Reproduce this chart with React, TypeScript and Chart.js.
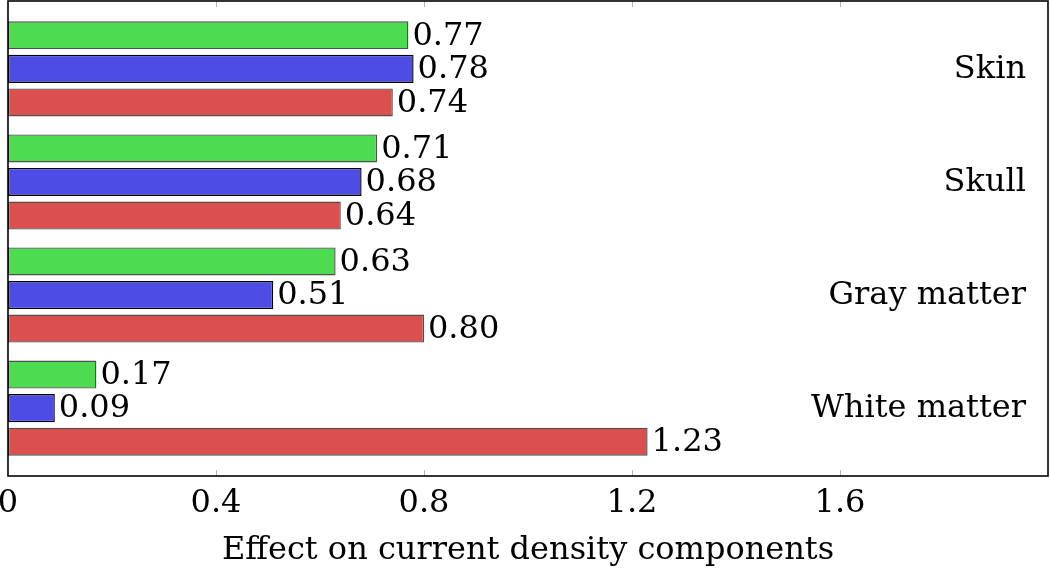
import React, { useEffect, useRef } from "react";
import { Chart, registerables } from "chart.js";
Chart.register(...registerables);

const categories = ["Skin", "Skull", "Gray matter", "White matter"];
const seriesGreen = [0.77, 0.71, 0.63, 0.17];
const seriesBlue = [0.78, 0.68, 0.51, 0.09];
const seriesRed = [0.74, 0.64, 0.8, 1.23];
const xTicks = [0, 0.4, 0.8, 1.2, 1.6];
const xTickLabels = ["0", "0.4", "0.8", "1.2", "1.6"];
const axisTitle = "Effect on current density components";

const FONT = "'DejaVu Serif', 'Liberation Serif', serif";
const FS = 32;

const decorPlugin = {
  id: "decor",
  afterDatasetsDraw(chart: any) {
    const { ctx, chartArea: a, scales } = chart;
    const x = scales.x;
    const y = scales.y;
    ctx.save();
    ctx.font = `${FS}px ${FONT}`;
    ctx.fillStyle = "#000";
    ctx.textAlign = "left";
    ctx.textBaseline = "middle";
    chart.data.datasets.forEach((ds: any, di: number) => {
      const meta = chart.getDatasetMeta(di);
      meta.data.forEach((bar: any, i: number) => {
        const v = ds.data[i].x as number;
        ctx.fillText(v.toFixed(2), bar.x + 4, bar.y + 1);
      });
    });
    ctx.textAlign = "right";
    categories.forEach((c, i) => {
      ctx.fillText(c, a.right - 22, y.getPixelForValue(i) + 1);
    });
    ctx.strokeStyle = "#b4b4b4";
    ctx.lineWidth = 1;
    xTicks.forEach((t) => {
      if (t === 0) return;
      const px = Math.round(x.getPixelForValue(t)) + 0.5;
      ctx.beginPath();
      ctx.moveTo(px, a.top);
      ctx.lineTo(px, a.top + 6);
      ctx.moveTo(px, a.bottom);
      ctx.lineTo(px, a.bottom - 6);
      ctx.stroke();
    });
    ctx.strokeStyle = "#000";
    ctx.lineWidth = 1.6;
    ctx.strokeRect(a.left, a.top, a.right - a.left, a.bottom - a.top);
    ctx.restore();
  },
};

export default function App() {
  const ref = useRef<HTMLCanvasElement | null>(null);
  useEffect(() => {
    if (!ref.current) return;
    const mk = (vals: number[]) => categories.map((_, i) => ({ x: vals[i], y: i }));
    const common = {
      borderWidth: 1.4,
      borderSkipped: false,
      categoryPercentage: 0.89,
      barPercentage: 0.836,
    };
    const chart = new Chart(ref.current, {
      type: "bar",
      data: {
        datasets: [
          {
            label: "Series 1",
            data: mk(seriesGreen),
            backgroundColor: "rgb(77,219,80)",
            borderColor: "rgb(80,80,80)",
            ...common,
          },
          {
            label: "Series 2",
            data: mk(seriesBlue),
            backgroundColor: "rgb(77,77,230)",
            borderColor: "rgb(0,0,0)",
            ...common,
          },
          {
            label: "Series 3",
            data: mk(seriesRed),
            backgroundColor: "rgb(220,79,79)",
            borderColor: "rgb(80,80,80)",
            ...common,
          },
        ] as any,
      },
      options: {
        indexAxis: "y",
        animation: false,
        responsive: false,
        maintainAspectRatio: false,
        layout: { padding: { left: 8, right: 2, top: 1, bottom: 0 } },
        plugins: { legend: { display: false }, tooltip: { enabled: false } },
        scales: {
          x: {
            type: "linear",
            min: 0,
            max: 2,
            afterBuildTicks: (s: any) => {
              s.ticks = xTicks.map((v) => ({ value: v }));
            },
            afterFit: (s: any) => {
              s.height = 94;
              s.paddingLeft = 0;
              s.paddingRight = 0;
            },
            ticks: {
              autoSkip: false,
              maxRotation: 0,
              padding: 8,
              color: "#000",
              font: { family: FONT, size: FS },
              callback: (_v: any, i: number) => xTickLabels[i],
            },
            grid: { display: false, drawTicks: false },
            border: { display: false },
            title: {
              display: true,
              text: axisTitle,
              color: "#000",
              font: { family: FONT, size: FS },
              padding: { top: 4, bottom: 0 },
            },
          },
          y: {
            type: "linear",
            reverse: true,
            offset: false,
            min: -0.6,
            max: 3.6,
            display: false,
            afterBuildTicks: (s: any) => {
              s.ticks = categories.map((_, i) => ({ value: i }));
            },
          },
        },
      } as any,
      plugins: [decorPlugin],
    });
    return () => chart.destroy();
  }, []);
  return (
    <div style={{ position: "absolute", left: 0, top: 0, width: 1050, height: 570 }}>
      <canvas ref={ref} width={1050} height={570} />
    </div>
  );
}
